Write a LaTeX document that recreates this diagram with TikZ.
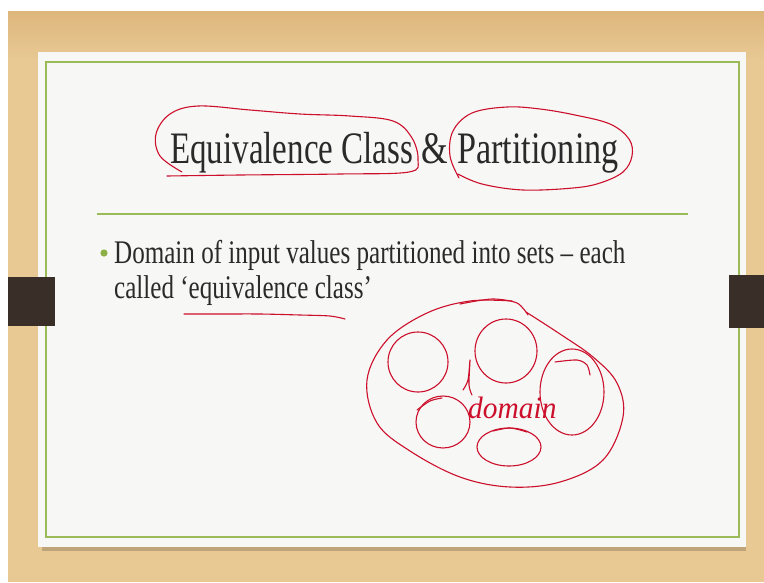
\documentclass[tikz,border=0pt]{standalone}
\usepackage{fontspec}
\setmainfont[FakeStretch=0.76]{Liberation Serif}
\newfontfamily\handfont[FakeStretch=0.95]{Liberation Serif}
\definecolor{wood}{HTML}{E8C993}
\definecolor{wooddark}{HTML}{DDB67C}
\definecolor{slidebg}{HTML}{F7F7F6}
\definecolor{olive}{HTML}{9BBB59}
\definecolor{bulletgreen}{HTML}{8DB046}
\definecolor{tabdark}{HTML}{3A2F28}
\definecolor{txt}{HTML}{2A2A2A}
\definecolor{ink}{HTML}{CC0F2B}
\tikzset{
  inkline/.style={draw=ink, line width=1.1pt, line cap=round, line join=round},
  titletext/.style={anchor=base west, inner sep=0pt, text=txt, font=\fontsize{45}{54}\selectfont},
  bodytext/.style={anchor=base west, inner sep=0pt, text=txt, font=\fontsize{33}{40}\selectfont},
}
\begin{document}
\begin{tikzpicture}[x=1pt,y=-1pt]
\useasboundingbox (0,0) rectangle (764,582);
% background
\fill[white] (0,0) rectangle (764,582);
\fill[wood] (8,11) rectangle (764,582);
\shade[top color=wooddark, bottom color=wood] (8,11) rectangle (764,60);
% slide shadow and slide
\fill[black, opacity=0.18] (42,56) rectangle (746,551);
\fill[slidebg] (38,52) rectangle (746,547);
\draw[olive, line width=1.6pt] (46,62) rectangle (739,537);
% tabs
\fill[tabdark] (8,277) rectangle (55,326);
\fill[tabdark] (729,275) rectangle (764,328);
% title
\node[titletext] (title1) at (170,163) {\scalebox{0.965}[1]{Equivalence Class}};
\node[titletext] (amp) at (421,163) {\&};
\node[titletext] (title2) at (457,163) {Partitioning};
% rule
\draw[olive, line width=1.3pt] (97,214) -- (688,214);
% bullet
\fill[bulletgreen] (104,253) circle (3.6);
\node[bodytext] (line1) at (114,263) {Domain of input values partitioned into sets – each};
\node[bodytext] (line2) at (114,298) {called ‘equivalence class’};
% ---- red annotations ----
% loop around Equivalence Class
\draw[inkline] plot[smooth, tension=0.6] coordinates {(182,172) (160,156) (156,134) (170,114) (198,106) (250,110) (300,114) (350,116) (393,121) (412,138) (418,160) (409,172) (340,174) (240,175) (167,176)};
% loop around Partitioning
\draw[inkline] plot[smooth, tension=0.6] coordinates {(459,178) (450,156) (453,131) (472,113) (507,107) (540,109) (575,115) (610,124) (629,139) (632,156) (623,172) (600,183) (573,188) (523,190) (482,184) (458,174)};
% underline
\draw[inkline] plot[smooth] coordinates {(184,314) (220,314) (260,314) (300,315) (330,316) (345,319)};
% domain outline
\draw[inkline] plot[smooth, tension=0.6] coordinates {(512,301) (470,301) (427,313) (387,340) (367,380) (377,423) (410,451) (460,477) (510,487) (560,482) (603,460) (623,417) (617,383) (593,357) (560,334) (526,312)};
\draw[inkline] plot[smooth] coordinates {(460,304) (492,299) (517,303) (528,315)};
% partitions
\draw[inkline] (418,362) ellipse (30 and 30);
\draw[inkline] (506,351) ellipse (31 and 32);
\draw[inkline] (572,392) ellipse (32 and 43);
\draw[inkline] plot[smooth] coordinates {(555,362) (577,360) (587,365) (590,375)};
\draw[inkline] (443,422) ellipse (27 and 26);
\draw[inkline] plot[smooth] coordinates {(417,410) (430,401) (442,398)};
\draw[inkline] (509,447) ellipse (32 and 19);
\draw[inkline] plot[smooth] coordinates {(493,431) (510,428) (527,432)};
% handwriting
\draw[inkline] plot[smooth] coordinates {(463,390) (468,380) (470,360) (469,385) (472,395)};
\node[anchor=base west, inner sep=0pt, text=ink, font=\handfont\itshape\fontsize{31}{34}\selectfont] (dom) at (468,418) {domain};
\end{tikzpicture}
\end{document}
